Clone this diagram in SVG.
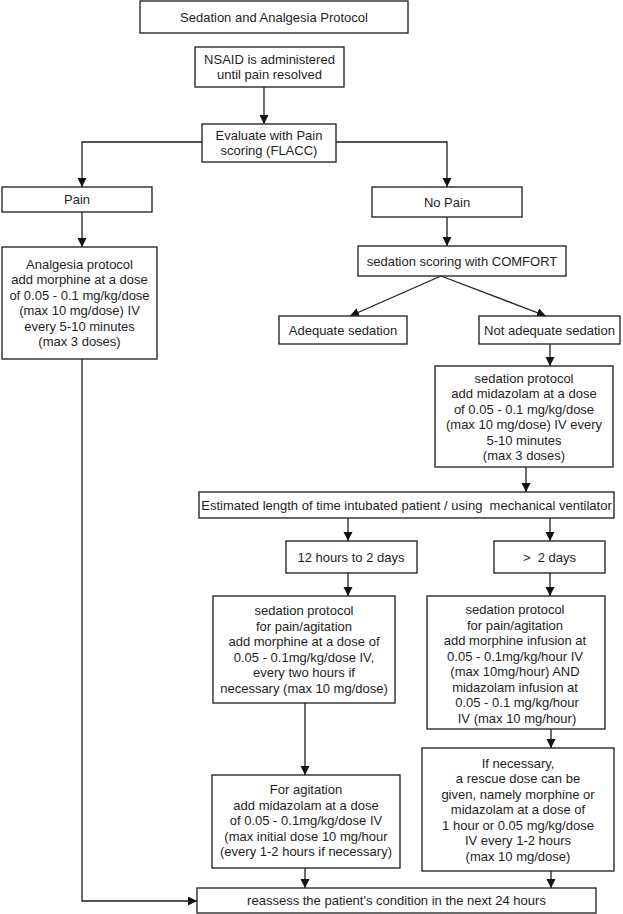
<svg xmlns="http://www.w3.org/2000/svg" width="623" height="914" viewBox="0 0 623 914">
<style>
  rect.box { fill: #ffffff; stroke: #2a2a2a; stroke-width: 1.4; }
  text { font-family: "Liberation Sans", Arial, sans-serif; font-size: 13px; fill: #1e1e1e; text-anchor: middle; white-space: pre; }
  .conn path, .conn line, .conn polyline { fill: none; stroke: #1e1e1e; stroke-width: 1.3; }
</style>
<defs>
  <marker id="arr" markerUnits="userSpaceOnUse" markerWidth="10" markerHeight="10" refX="9" refY="4.5" orient="auto">
    <path d="M0,0 L9,4.5 L0,9 z" fill="#111"/>
  </marker>
</defs>
<rect x="0" y="0" width="623" height="914" fill="#ffffff"/>

<g class="conn">
  <line x1="264" y1="87" x2="264" y2="124" marker-end="url(#arr)"/>
  <polyline points="202,142 82,142 82,187" marker-end="url(#arr)"/>
  <polyline points="336,142 447,142 447,187" marker-end="url(#arr)"/>
  <line x1="82" y1="212" x2="82" y2="247" marker-end="url(#arr)"/>
  <line x1="447" y1="217" x2="447" y2="246" marker-end="url(#arr)"/>
  <line x1="441" y1="276" x2="350" y2="316" marker-end="url(#arr)"/>
  <line x1="441" y1="276" x2="546" y2="316" marker-end="url(#arr)"/>
  <line x1="550" y1="344" x2="550" y2="366" marker-end="url(#arr)"/>
  <line x1="526" y1="467" x2="526" y2="492" marker-end="url(#arr)"/>
  <line x1="348" y1="518" x2="348" y2="541" marker-end="url(#arr)"/>
  <line x1="550" y1="518" x2="550" y2="541" marker-end="url(#arr)"/>
  <line x1="348" y1="573" x2="348" y2="596" marker-end="url(#arr)"/>
  <line x1="550" y1="573" x2="550" y2="596" marker-end="url(#arr)"/>
  <line x1="305" y1="703" x2="305" y2="775" marker-end="url(#arr)"/>
  <line x1="551" y1="729" x2="551" y2="748" marker-end="url(#arr)"/>
  <line x1="305" y1="868" x2="305" y2="888" marker-end="url(#arr)"/>
  <line x1="551" y1="871" x2="551" y2="888" marker-end="url(#arr)"/>
  <polyline points="82,359 82,901 197,901" marker-end="url(#arr)"/>
</g>

<g id="title">
  <rect class="box" x="140" y="1" width="268" height="32"/>
  <text x="274" y="21.5">Sedation and Analgesia Protocol</text>
</g>
<g id="nsaid">
  <rect class="box" x="195" y="47" width="149" height="40"/>
  <text x="269.5" y="63.5">NSAID is administered</text>
  <text x="269.5" y="79">until pain resolved</text>
</g>
<g id="evaluate">
  <rect class="box" x="202" y="124" width="134" height="38"/>
  <text x="269" y="139.5">Evaluate with Pain</text>
  <text x="269" y="155">scoring (FLACC)</text>
</g>
<g id="pain">
  <rect class="box" x="2" y="187" width="150" height="25"/>
  <text x="77" y="204">Pain</text>
</g>
<g id="nopain">
  <rect class="box" x="372" y="187" width="150" height="30"/>
  <text x="447" y="206.5">No Pain</text>
</g>
<g id="analgesia">
  <rect class="box" x="2" y="247" width="155" height="112"/>
  <text x="79.5" y="268.5">Analgesia protocol</text>
  <text x="79.5" y="284">add morphine at a dose</text>
  <text x="79.5" y="299.5">of 0.05 - 0.1 mg/kg/dose</text>
  <text x="79.5" y="315">(max 10 mg/dose) IV</text>
  <text x="79.5" y="330.5">every 5-10 minutes</text>
  <text x="79.5" y="346">(max 3 doses)</text>
</g>
<g id="comfort">
  <rect class="box" x="358" y="246" width="208" height="30"/>
  <text x="462" y="266">sedation scoring with COMFORT</text>
</g>
<g id="adequate">
  <rect class="box" x="279" y="316" width="128" height="28"/>
  <text x="343" y="334.5">Adequate sedation</text>
</g>
<g id="notadequate">
  <rect class="box" x="479" y="316" width="141" height="28"/>
  <text x="549.5" y="334.5">Not adequate sedation</text>
</g>
<g id="sedation1">
  <rect class="box" x="435" y="366" width="178" height="101"/>
  <text x="524" y="382.5">sedation protocol</text>
  <text x="524" y="398">add midazolam at a dose</text>
  <text x="524" y="413.5">of 0.05 - 0.1 mg/kg/dose</text>
  <text x="524" y="429">(max 10 mg/dose) IV every</text>
  <text x="524" y="444.5">5-10 minutes</text>
  <text x="524" y="460">(max 3 doses)</text>
</g>
<g id="estimated">
  <rect class="box" x="199" y="492" width="415" height="26"/>
  <text x="406.5" y="509.5">Estimated length of time intubated patient / using  mechanical ventilator</text>
</g>
<g id="short">
  <rect class="box" x="286" y="541" width="131" height="32"/>
  <text x="351" y="561.5">12 hours to 2 days</text>
</g>
<g id="long">
  <rect class="box" x="494" y="541" width="111" height="32"/>
  <text x="549.5" y="561.5">&gt;  2 days</text>
</g>
<g id="sedation2">
  <rect class="box" x="213" y="596" width="182" height="107"/>
  <text x="304" y="615">sedation protocol</text>
  <text x="304" y="630.5">for pain/agitation</text>
  <text x="304" y="646">add morphine at a dose of</text>
  <text x="304" y="661.5">0.05 - 0.1mg/kg/dose IV,</text>
  <text x="304" y="677">every two hours if</text>
  <text x="304" y="692.5">necessary (max 10 mg/dose)</text>
</g>
<g id="sedation3">
  <rect class="box" x="427" y="596" width="178" height="133"/>
  <text x="515" y="614">sedation protocol</text>
  <text x="515" y="629.5">for pain/agitation</text>
  <text x="515" y="645">add morphine infusion at</text>
  <text x="515" y="660.5">0.05 - 0.1mg/kg/hour IV</text>
  <text x="515" y="676">(max 10mg/hour) AND</text>
  <text x="515" y="691.5">midazolam infusion at</text>
  <text x="517" y="707">0.05 - 0.1 mg/kg/hour</text>
  <text x="517" y="722.5">IV (max 10 mg/hour)</text>
</g>
<g id="agitation">
  <rect class="box" x="212" y="775" width="188" height="93"/>
  <text x="306" y="794">For agitation</text>
  <text x="306" y="809.5">add midazolam at a dose</text>
  <text x="306" y="825">of 0.05 - 0.1mg/kg/dose IV</text>
  <text x="306" y="840.5">(max initial dose 10 mg/hour</text>
  <text x="306" y="856">(every 1-2 hours if necessary)</text>
</g>
<g id="rescue">
  <rect class="box" x="422" y="748" width="192" height="123"/>
  <text x="518" y="767.5">If necessary,</text>
  <text x="518" y="783">a rescue dose can be</text>
  <text x="518" y="798.5">given, namely morphine or</text>
  <text x="518" y="814">midazolam at a dose of</text>
  <text x="518" y="829.5">1 hour or 0.05 mg/kg/dose</text>
  <text x="518" y="845">IV every 1-2 hours</text>
  <text x="518" y="860.5">(max 10 mg/dose)</text>
</g>
<g id="reassess">
  <rect class="box" x="197" y="888" width="399" height="25"/>
  <text x="396.5" y="905">reassess the patient's condition in the next 24 hours</text>
</g>
</svg>
